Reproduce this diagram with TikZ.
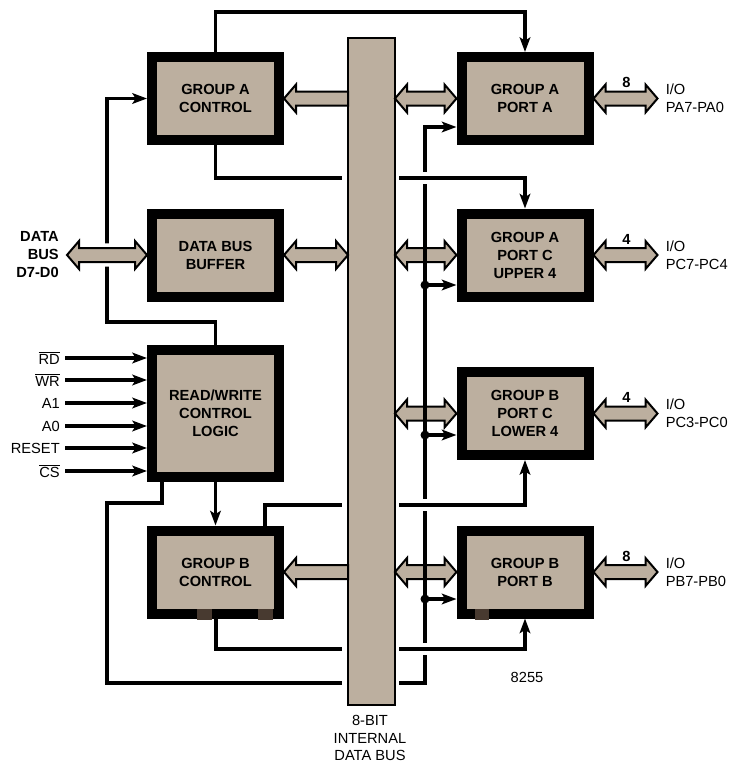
\documentclass[tikz,border=0pt]{standalone}
\usepackage{fontspec}
\setmainfont{Liberation Sans}
\usetikzlibrary{calc,arrows.meta}
\pgfdeclarelayer{bg}
\pgfsetlayers{bg,main}
\definecolor{boxtan}{RGB}{188,175,159}
\definecolor{padc}{RGB}{72,58,48}
\newcommand\fatdbl[3][]{\path[fat,#1] (#2) -- ($(#2)+(12,-14)$) -- ($(#2)+(12,-7)$) -- ($(#3)+(-12,-7)$) -- ($(#3)+(-12,-14)$) -- (#3) -- ($(#3)+(-12,14)$) -- ($(#3)+(-12,7)$) -- ($(#2)+(12,7)$) -- ($(#2)+(12,14)$) -- cycle;}
\newcommand\fatleft[2]{\path[fat] (#1) -- ($(#1)+(12,-14)$) -- ($(#1)+(12,-7)$) -- ($(#2)+(0,-7)$) -- ($(#2)+(0,7)$) -- ($(#1)+(12,7)$) -- ($(#1)+(12,14)$) -- cycle;}
\begin{document}
\begin{tikzpicture}[x=0.75pt,y=-0.75pt,
  box/.style={draw=black, fill=boxtan, line width=7.5pt, minimum width=95.25pt, minimum height=62.25pt, inner sep=0pt, align=center, font=\bfseries\fontsize{11}{13.5}\selectfont},
  ln/.style={line width=2.5pt},
  arr/.style={-{Stealth[length=11pt,width=8pt,inset=2.5pt]}},
  fat/.style={fill=boxtan, draw=black, line width=1.5pt, line join=miter},
  halo/.style={preaction={draw=white, line width=7pt}},
  lab/.style={font=\fontsize{11}{13.5}\selectfont, inner sep=3.75pt},
  blab/.style={font=\bfseries\fontsize{11}{13.5}\selectfont, inner sep=3.75pt},
  pad/.style={fill=padc}
]
\useasboundingbox (0,0) rectangle (736,764);

% boxes
\node[box] (GAC) at (215.5,98.5) {GROUP A\\CONTROL};
\node[box] (DBB) at (215.5,255) {DATA BUS\\BUFFER};
\node[box, minimum height=95.25pt] (RW) at (215.5,413.5) {READ/WRITE\\CONTROL\\LOGIC};
\node[box] (GBC) at (215.5,572) {GROUP B\\CONTROL};
\node[box] (PA) at (525,98.5) {GROUP A\\PORT A};
\node[box] (PCU) at (525,255) {GROUP A\\PORT C\\UPPER 4};
\node[box] (PCL) at (525,413.5) {GROUP B\\PORT C\\LOWER 4};
\node[box] (PB) at (525,572) {GROUP B\\PORT B};

\begin{pgfonlayer}{bg}
% internal bus
\node[draw=black, fill=boxtan, line width=1pt, minimum width=35.25pt, minimum height=500.25pt, inner sep=0pt, outer sep=0pt] (bar) at (371.5,371.5) {};

\coordinate (bwA) at (bar.west |- GAC.east);
\coordinate (bwB) at (bar.west |- DBB.east);
\coordinate (bwD) at (bar.west |- GBC.east);
\coordinate (beA) at (bar.east |- PA.west);
\coordinate (beB) at (bar.east |- PCU.west);
\coordinate (beC) at (bar.east |- PCL.west);
\coordinate (beD) at (bar.east |- PB.west);

% fat buses
\fatleft{GAC.east}{bwA}
\fatdbl{DBB.east}{bwB}
\fatleft{GBC.east}{bwD}
\fatdbl{beA}{PA.west}
\fatdbl{beB}{PCU.west}
\fatdbl{beC}{PCL.west}
\fatdbl{beD}{PB.west}
\fatdbl{PA.east}{$(PA.east)+(64,0)$}
\fatdbl{PCU.east}{$(PCU.east)+(64,0)$}
\fatdbl{PCL.east}{$(PCL.east)+(64,0)$}
\fatdbl{PB.east}{$(PB.east)+(64,0)$}

% top control line
\draw[ln,arr] (GAC.north) -- ++(0,-40) -| (PA.north);

% R/W -> group A control
\draw[ln,arr] (RW.north) -- ++(0,-23) -| ($(GAC.west)+(-40,0)$) -- (GAC.west);

% data bus external
\coordinate (dbx) at (67,255);
\fatdbl[halo]{dbx}{DBB.west}

% R/W -> group B control
\draw[ln,arr] (RW.south) -- (GBC.north);

% big loop to port latches
\coordinate (rwb) at ($(RW.south west)+(15,0)$);
\coordinate (lbl) at (107,683);
\coordinate (lbe) at (342,683);
\coordinate (rbs) at (399,683);
\coordinate (vb) at (425,683);
\coordinate (vt) at (425,127);
\draw[ln] (rwb) -- ++(0,21) -| (lbl) -- (lbe);
\draw[ln,arr] (rbs) -- (vb) -- (vt) -- (vt -| PA.west);
\foreach \n/\yy in {PCU/285, PCL/435, PB/599}{
  \coordinate (d\n) at (425,\yy);
  \fill (d\n) circle (4.5);
  \draw[ln,arr] (d\n) -- (d\n -| \n.west);
}

% crossings (gaps in vertical line)
\foreach \yy in {178,505,649}{
  \draw[white, line width=7pt] (425,\yy-6) -- (425,\yy+6);
}

% group A control -> port C upper
\coordinate (hAl) at (342,178);
\coordinate (hAr) at (399,178);
\draw[ln] (GAC.south) |- (hAl);
\draw[ln,arr] (hAr) -| (PCU.north);

% group B control -> port C lower
\coordinate (gbt) at ($(GBC.north east)+(-19,0)$);
\coordinate (hBl) at (342,505);
\coordinate (hBr) at (399,505);
\draw[ln] (gbt) |- (hBl);
\draw[ln,arr] (hBr) -| (PCL.south);

% group B control -> port B
\coordinate (gbb) at ($(GBC.south west)+(69,0)$);
\coordinate (hCl) at (342,649);
\coordinate (hCr) at (399,649);
\draw[ln] (gbb) |- (hCl);
\draw[ln,arr] (hCr) -| (PB.south);
\end{pgfonlayer}

% pads
\fill[pad] (197,609) rectangle (212,620);
\fill[pad] (258,609) rectangle (273,620);
\fill[pad] (475,609) rectangle (489,620);

% control inputs
\node[lab, anchor=east] (in1) at (65,358) {$\overline{\mbox{RD}}$};
\node[lab, anchor=east] (in2) at (65,380) {$\overline{\mbox{WR}}$};
\node[lab, anchor=east] (in3) at (65,403) {A1};
\node[lab, anchor=east] (in4) at (65,426) {A0};
\node[lab, anchor=east] (in5) at (65,448) {RESET};
\node[lab, anchor=east] (in6) at (65,471) {$\overline{\mbox{CS}}$};
\foreach \i in {1,...,6}{
  \draw[ln,arr] (in\i.east) -- (in\i.east -| RW.west);
}

% labels
\node[blab, anchor=east, align=right] (dbl) at (64,255) {DATA\\BUS\\D7-D0};
\foreach \n/\w/\t in {PA/8/PA7-PA0, PCU/4/PC7-PC4, PCL/4/PC3-PC0, PB/8/PB7-PB0}{
  \node[blab] (w\n) at ($(\n.east)+(33,-16)$) {\w};
  \node[lab, anchor=west, align=left] (io\n) at ($(\n.east)+(67,0)$) {I/O\\\t};
}
\node[lab] (chip) at (527,677) {8255};
\node[lab, align=center, font=\fontsize{11}{13}\selectfont, inner sep=0pt] (busl) at (370,738) {8-BIT\\INTERNAL\\DATA BUS};
\end{tikzpicture}
\end{document}
